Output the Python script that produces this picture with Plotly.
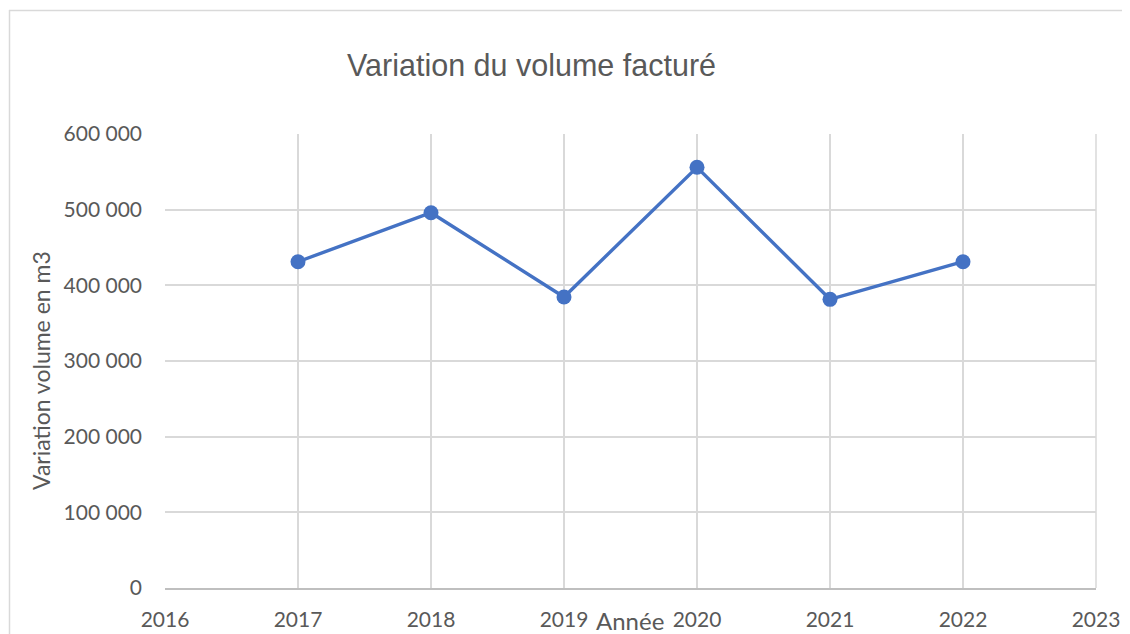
import plotly.graph_objects as go

years = [2017, 2018, 2019, 2020, 2021, 2022]
volumes = [431200, 496000, 384600, 556000, 381500, 431200]
x_ticks = [2016, 2017, 2018, 2019, 2020, 2021, 2022, 2023]
y_ticks = [0, 100000, 200000, 300000, 400000, 500000, 600000]
y_tick_labels = ["0", "100 000", "200 000", "300 000", "400 000", "500 000", "600 000"]

PAGE_W, PAGE_H = 1130, 634
OFF = 8  # default body margin of the html page
W, H = PAGE_W - OFF, PAGE_H - OFF
L, R, T, B = 165, 1096, 134, 588  # plot area in page pixels

def px_x(p):
    return (p - L) / (R - L)

def px_y(p):
    return (B - p) / (B - T)

fig = go.Figure()
fig.add_trace(go.Scatter(
    x=years, y=volumes, mode="lines+markers",
    line=dict(color="#4472C4", width=3.4),
    marker=dict(color="#4472C4", size=15),
    showlegend=False, cliponaxis=False,
))

tick_font = dict(family="Lato, Open Sans, sans-serif", size=21, color="#595959")

fig.update_layout(
    width=W, height=H,
    margin=dict(l=L - OFF, r=PAGE_W - R, t=T - OFF, b=PAGE_H - B, pad=0),
    paper_bgcolor="white", plot_bgcolor="white",
    xaxis=dict(
        range=[2016, 2023], tickvals=x_ticks, ticktext=[str(v) for v in x_ticks],
        showgrid=True, gridcolor="#d9d9d9", gridwidth=1.5,
        showline=True, linecolor="#bfbfbf", linewidth=1.5,
        zeroline=False, ticks="", tickfont=tick_font, ticklabelstandoff=12,
        automargin=False,
    ),
    yaxis=dict(
        range=[0, 600000], tickvals=y_ticks, ticktext=y_tick_labels,
        showgrid=True, gridcolor="#d9d9d9", gridwidth=1.5,
        showline=False, zeroline=False, ticks="", tickfont=tick_font,
        ticklabelstandoff=22, automargin=False,
    ),
    annotations=[
        dict(text="Variation du volume facturé", xref="paper", yref="paper",
             x=px_x(531), y=px_y(65), xanchor="center", yanchor="middle",
             showarrow=False,
             font=dict(family="Liberation Sans, Arial, sans-serif", size=30.5, color="#595959")),
        dict(text="Variation volume en m3", xref="paper", yref="paper",
             x=px_x(41), y=px_y(371), xanchor="center", yanchor="middle",
             textangle=-90, showarrow=False,
             font=dict(family="Lato, Open Sans, sans-serif", size=23, color="#595959")),
        dict(text="Année", xref="paper", yref="paper",
             x=px_x(630), y=px_y(620), xanchor="center", yanchor="middle",
             showarrow=False,
             font=dict(family="Lato, Open Sans, sans-serif", size=24, color="#595959")),
    ],
    shapes=[
        dict(type="line", xref="paper", yref="paper",
             x0=px_x(9), x1=px_x(1135), y0=px_y(10.5), y1=px_y(10.5),
             line=dict(color="#d9d9d9", width=1.5)),
        dict(type="line", xref="paper", yref="paper",
             x0=px_x(9.5), x1=px_x(9.5), y0=px_y(10), y1=px_y(640),
             line=dict(color="#d9d9d9", width=1.5)),
        dict(type="line", xref="paper", yref="paper",
             x0=1, x1=1, y0=0, y1=1,
             line=dict(color="#d9d9d9", width=1.5)),
    ],
)

fig.write_html("out.html")
